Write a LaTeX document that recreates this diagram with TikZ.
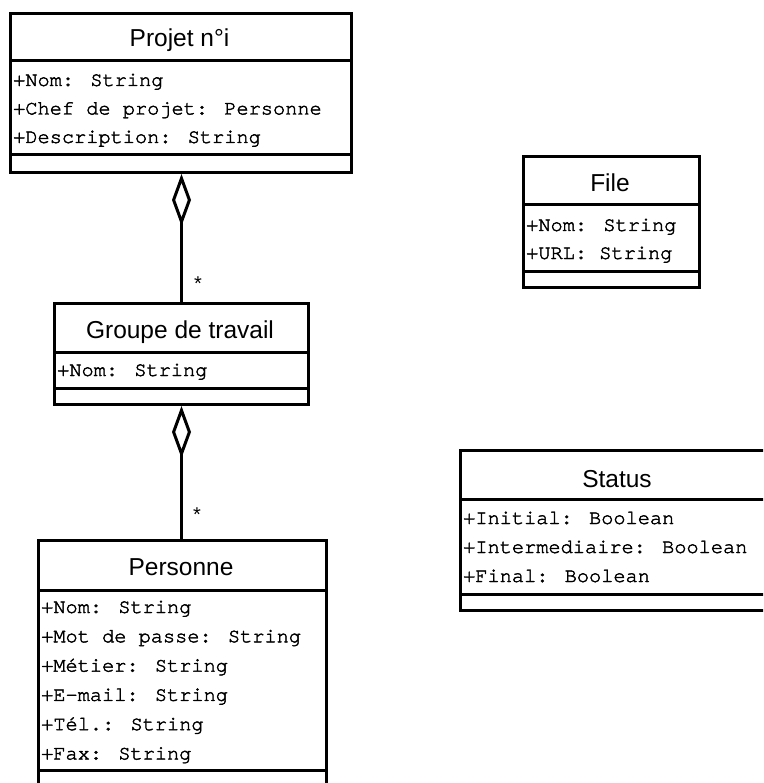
\documentclass[tikz,border=0pt]{standalone}
\usepackage{fontspec}
\setmainfont{Liberation Sans}
\newfontfamily\monofont[FakeBold=2]{texgyrecursor-regular.otf}
\usetikzlibrary{arrows.meta}
\tikzset{
  classbox/.style={draw, line width=3pt, inner sep=0pt, anchor=north west},
  sepline/.style={line width=3pt},
  title/.style={anchor=base, inner sep=0pt, font=\fontsize{24.5}{29}\selectfont},
  attr/.style={anchor=base west, inner sep=0pt, font=\monofont\fontsize{20.3}{24}\selectfont},
  mult/.style={inner sep=0pt, font=\fontsize{20}{24}\selectfont},
  aggr/.style={line width=3pt, -{Diamond[open, length=52pt, width=19pt]}}
}
\begin{document}
\begin{tikzpicture}[x=1pt, y=-1pt]
\useasboundingbox (0,0) rectangle (763,783);
\clip (0,0) rectangle (763,783);
\fill[white] (0,0) rectangle (763,783);

% Projet
\node[classbox, minimum width=341pt, minimum height=159pt] (projet) at (9,12) {};
\draw[sepline] (9,61) -- (350,61);
\draw[sepline] (9,155) -- (350,155);
\node[title] (projetT) at (179.5,47) {Projet n°i};
\node[attr] (p1) at (13,86) {+Nom: String};
\node[attr] (p2) at (13,114.5) {+Chef de projet: Personne};
\node[attr] (p3) at (13,143) {+Description: String};

% Groupe
\node[classbox, minimum width=254pt, minimum height=101pt] (groupe) at (53,302) {};
\draw[sepline] (53,352) -- (307,352);
\draw[sepline] (53,388) -- (307,388);
\node[title] (groupeT) at (180,338) {Groupe de travail};
\node[attr] (g1) at (57,376) {+Nom: String};

% Personne
\node[classbox, minimum width=288pt, minimum height=270pt] (personne) at (37,539) {};
\draw[sepline] (37,590) -- (325,590);
\draw[sepline] (37,770) -- (325,770);
\node[title] (personneT) at (181,575) {Personne};
\node[attr] (r1) at (41,613) {+Nom: String};
\node[attr] (r2) at (41,642.3) {+Mot de passe: String};
\node[attr] (r3) at (41,671.6) {+Métier: String};
\node[attr] (r4) at (41,700.9) {+E-mail: String};
\node[attr] (r5) at (41,730.2) {+Tél.: String};
\node[attr] (r6) at (41,759.5) {+Fax: String};

% File
\node[classbox, minimum width=176pt, minimum height=131pt] (file) at (522,155) {};
\draw[sepline] (522,205) -- (698,205);
\draw[sepline] (522,271) -- (698,271);
\node[title] (fileT) at (610,192) {File};
\node[attr] (f1) at (526,231) {+Nom: String};
\node[attr] (f2) at (526,259) {+URL: String};

% Status
\node[classbox, minimum width=316pt, minimum height=160pt] (status) at (459,449) {};
\draw[sepline] (459,499) -- (775,499);
\draw[sepline] (459,594) -- (775,594);
\node[title] (statusT) at (617,487) {Status};
\node[attr] (s1) at (463,524) {+Initial: Boolean};
\node[attr] (s2) at (463,553) {+Intermediaire: Boolean};
\node[attr] (s3) at (463,582) {+Final: Boolean};

% Connectors
\draw[aggr] (groupe.north) -- (groupe.north |- projet.south);
\draw[aggr] (personne.north -| groupe.south) -- (groupe.south);
\node[mult] (m1) at (198,284) {*};
\node[mult] (m2) at (197,515) {*};
\end{tikzpicture}
\end{document}
